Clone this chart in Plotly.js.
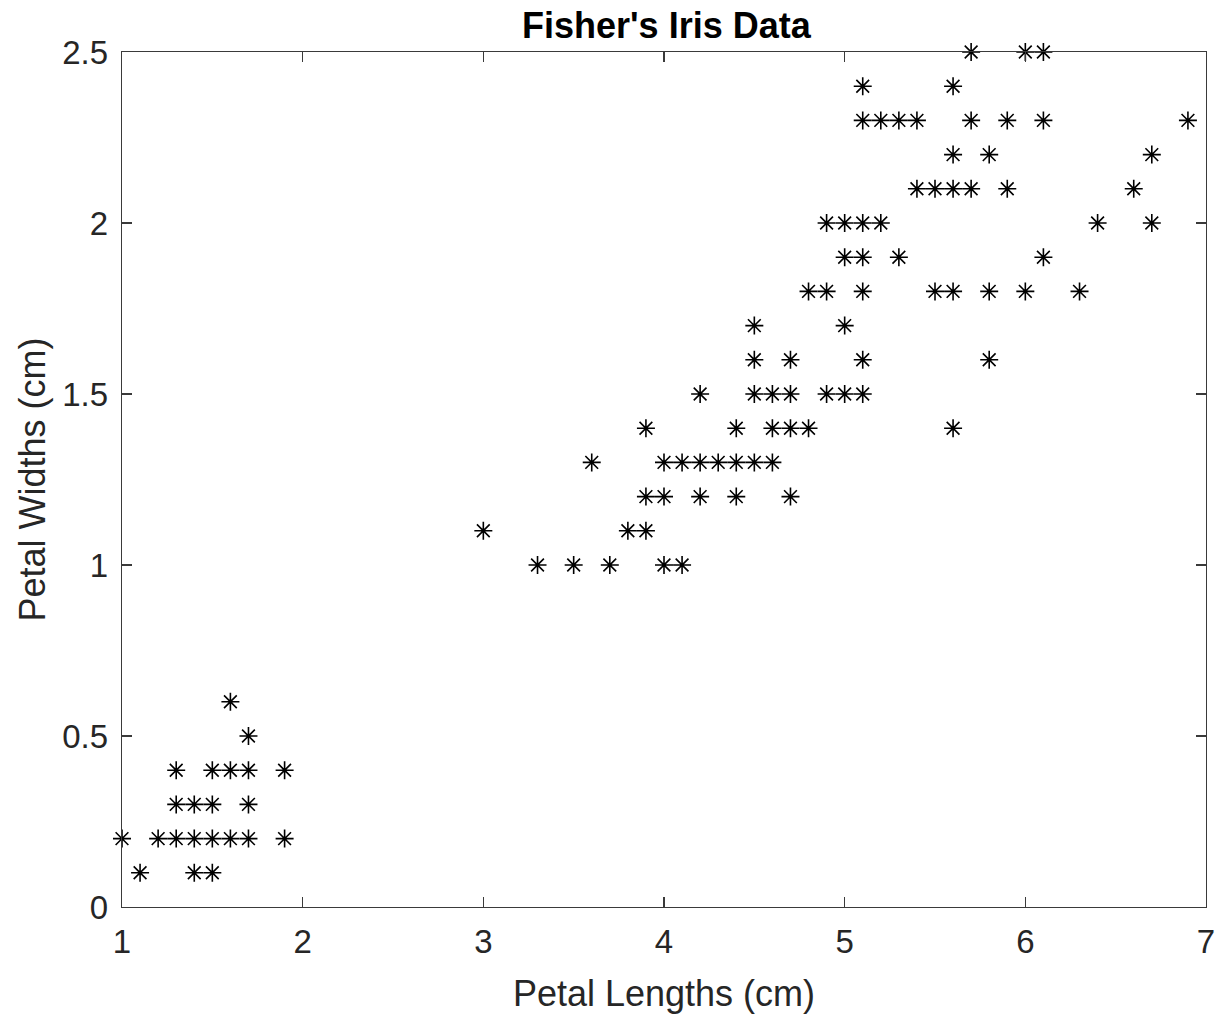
<!DOCTYPE html>
<html>
<head>
<meta charset="utf-8">
<script src="https://cdn.plot.ly/plotly-3.0.1.min.js"></script>
<style>html,body{margin:0;padding:0;background:#fff;}#chart{width:1216px;height:1015px;}</style>
</head>
<body>
<div id="chart"></div>
<script>
// Petal lengths (cm) and petal widths (cm), one point per visible asterisk
const petalLengths = [
  1.0,1.2,1.3,1.4,1.5,1.6,1.7,1.9, 1.1,1.4,1.5, 1.3,1.4,1.5,1.7, 1.3,1.5,1.6,1.7,1.9, 1.7, 1.6,
  3.3,3.5,3.7,4.0,4.1, 3.0,3.8,3.9, 3.9,4.0,4.2,4.4,4.7,
  3.6,4.0,4.1,4.2,4.3,4.4,4.5,4.6, 3.9,4.4,4.6,4.7,4.8,5.6,
  4.2,4.5,4.6,4.7,4.9,5.0,5.1, 4.5,4.7,5.1,5.8, 4.5,5.0,
  4.8,4.9,5.1,5.5,5.6,5.8,6.0,6.3, 5.0,5.1,5.3,6.1,
  4.9,5.0,5.1,5.2,6.4,6.7, 5.4,5.5,5.6,5.7,5.9,6.6,
  5.6,5.8,6.7, 5.1,5.2,5.3,5.4,5.7,5.9,6.1,6.9, 5.1,5.6, 5.7,6.0,6.1
];
const petalWidths = [
  0.2,0.2,0.2,0.2,0.2,0.2,0.2,0.2, 0.1,0.1,0.1, 0.3,0.3,0.3,0.3, 0.4,0.4,0.4,0.4,0.4, 0.5, 0.6,
  1.0,1.0,1.0,1.0,1.0, 1.1,1.1,1.1, 1.2,1.2,1.2,1.2,1.2,
  1.3,1.3,1.3,1.3,1.3,1.3,1.3,1.3, 1.4,1.4,1.4,1.4,1.4,1.4,
  1.5,1.5,1.5,1.5,1.5,1.5,1.5, 1.6,1.6,1.6,1.6, 1.7,1.7,
  1.8,1.8,1.8,1.8,1.8,1.8,1.8,1.8, 1.9,1.9,1.9,1.9,
  2.0,2.0,2.0,2.0,2.0,2.0, 2.1,2.1,2.1,2.1,2.1,2.1,
  2.2,2.2,2.2, 2.3,2.3,2.3,2.3,2.3,2.3,2.3,2.3, 2.4,2.4, 2.5,2.5,2.5
];
const xTicks = [1,2,3,4,5,6,7];
const yTicks = [0,0.5,1,1.5,2,2.5];
const yTickLabels = ['0','0.5','1','1.5','2','2.5'];

const axisColor = '#262626';
const lineColor = '#3a3a3a';
const font = 'Liberation Sans, Arial, sans-serif';

const trace = {
  x: petalLengths, y: petalWidths, type: 'scatter', mode: 'markers',
  marker: {symbol: 'asterisk-open', size: 15, color: '#000', line: {color: '#000', width: 1.6}},
  cliponaxis: false, hoverinfo: 'x+y'
};

const layout = {
  width: 1216, height: 1015,
  paper_bgcolor: '#fff', plot_bgcolor: '#fff',
  margin: {l: 122, r: 10, t: 52, b: 108},
  showlegend: false,
  title: {text: "<b>Fisher's Iris Data</b>", font: {family: font, size: 36, color: '#000'},
          x: 0.548, xanchor: 'center', y: 0.975, yanchor: 'middle'},
  xaxis: {
    range: [1, 7], tickvals: xTicks, ticktext: xTicks.map(String),
    ticks: 'inside', ticklen: 10, tickwidth: 1.2, tickcolor: lineColor,
    showgrid: false, zeroline: false, showline: true, linecolor: lineColor, linewidth: 1.3, mirror: 'ticks',
    tickfont: {family: font, size: 33, color: axisColor}, ticklabelstandoff: 5,
    title: {text: 'Petal Lengths (cm)', font: {family: font, size: 36, color: axisColor}, standoff: 22}
  },
  yaxis: {
    range: [0, 2.5], tickvals: yTicks, ticktext: yTickLabels,
    ticks: 'inside', ticklen: 10, tickwidth: 1.2, tickcolor: lineColor,
    showgrid: false, zeroline: false, showline: true, linecolor: lineColor, linewidth: 1.3, mirror: 'ticks',
    tickfont: {family: font, size: 33, color: axisColor}, ticklabelstandoff: 6,
    title: {text: 'Petal Widths (cm)', font: {family: font, size: 36, color: axisColor}, standoff: 5}
  }
};

Plotly.newPlot('chart', [trace], layout, {displayModeBar: false, staticPlot: true});
</script>
</body>
</html>
